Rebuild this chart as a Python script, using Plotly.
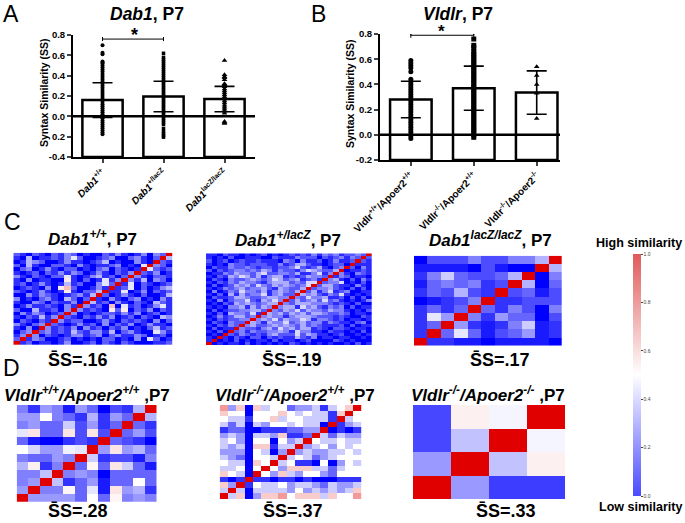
import plotly.graph_objects as go

W, H = 685, 523
FONT = "Liberation Sans"

# bar panel A
dab_labels = ["<i>Dab1</i><sup>+/+</sup>", "<i>Dab1</i><sup>+/lacZ</sup>", "<i>Dab1</i><sup>lacZ/lacZ</sup>"]
dab_means = [0.16, 0.195, 0.17]
dab_sd = [0.17, 0.15, 0.125]
dab_ticks = [0.8, 0.6, 0.4, 0.2, 0.0, -0.2, -0.4]
dab_ticktext = ["0.8", "0.6", "0.4", "0.2", "0.0", "0.2", "-0.4"]
dab_wt = [0.70, 0.625, 0.61, 0.54, 0.53, 0.52, 0.50, 0.48, 0.46, 0.44, 0.42, 0.40, 0.38, 0.36, 0.34, 0.32, 0.30,
          0.28, 0.26, 0.24, 0.22, 0.20, 0.18, 0.16, 0.14, 0.12, 0.10, 0.08, 0.06, 0.04, 0.02, 0.0, -0.02, -0.04,
          -0.06, -0.08, -0.10, -0.12, -0.14, -0.16, -0.175]
dab_het = [0.62, 0.58, 0.56, 0.54, 0.52, 0.50, 0.48, 0.46, 0.44, 0.42, 0.40, 0.38, 0.36, 0.34, 0.32, 0.30, 0.28,
           0.26, 0.24, 0.22, 0.20, 0.18, 0.16, 0.14, 0.12, 0.10, 0.08, 0.06, 0.04, 0.02, 0.0, -0.02, -0.04, -0.06,
           -0.08, -0.12, -0.15, -0.17, -0.19, -0.205]
dab_hom = [0.55, 0.41, 0.39, 0.38, 0.36, 0.32, 0.31, 0.29, 0.27, 0.25, 0.23, 0.21, 0.19, 0.17, 0.15, 0.13, 0.11,
           0.09, 0.07, 0.05, 0.03, -0.05, -0.06, -0.07]

# bar panel B
vldlr_labels = ["Vldlr<sup>+/+</sup>/Apoer2<sup>+/+</sup>", "Vldlr<sup>-/-</sup>/Apoer2<sup>+/+</sup>",
                "Vldlr<sup>-/-</sup>/Apoer2<sup>-/-</sup>"]
vldlr_means = [0.28, 0.37, 0.335]
vldlr_sd = [0.145, 0.175, 0.172]
vldlr_ticks = [0.8, 0.6, 0.4, 0.2, 0.0, -0.2]
vldlr_wt = [0.59, 0.57, 0.55, 0.53, 0.50, 0.44, 0.42, 0.40, 0.38, 0.36, 0.34, 0.32, 0.30, 0.28, 0.26, 0.24, 0.22,
            0.20, 0.18, 0.16, 0.14, 0.12, 0.10, 0.08, 0.06, 0.04, 0.02, -0.01, -0.03]
vldlr_ko = [0.76, 0.71, 0.69, 0.66, 0.64, 0.62, 0.60, 0.58, 0.56, 0.54, 0.52, 0.50, 0.48, 0.46, 0.44, 0.42, 0.40,
            0.38, 0.36, 0.34, 0.32, 0.30, 0.28, 0.26, 0.24, 0.22, 0.20, 0.18, 0.16, 0.14, 0.12, 0.10, 0.08, 0.06,
            0.04, 0.02, 0.0, -0.02]
vldlr_dko = [0.54, 0.47, 0.40, 0.33, 0.13]

# heatmaps, rows top to bottom, digit = step of similarity, R = 1.0
dab_wt_rows = [
    "21021 02132 01002 13101 3032R", "10401 12135 20012 30023 102R4", "01432 00131 10124 01003 10R21",
    "20410 02210 31011 23010 5R320", "02301 31022 01023 02101 R5212", "10120 21313 20131 0213R 21301",
    "31021 02251 01341 202R3 10221", "10301 10061 02015 13R31 40320", "12013 10141 20035 2R150 21012",
    "01210 30672 00131 R1250 20134", "21013 10161 0224R 11501 30212", "00313 21012 314R2 01310 20014",
    "30102 31042 02R10 31023 01031", "10032 02113 0R412 03102 10421", "01311 21031 R3120 70512 01351",
    "20041 1203R 31210 62602 13021", "03132 012R3 01012 21313 01201", "10214 13R21 02131 30120 21043",
    "02102 1R312 20013 10212 10302", "31023 R2101 31203 02130 13110", "1030R 31213 03120 21301 02412",
    "023R2 31214 21331 40231 00531", "13R30 21013 31230 23113 20120", "2R132 00120 10102 20103 05201",
    "R1201 10130 01202 10210 00112",
]
dab_het_rows = [
    "11021 10101 20101 21213 13231 2232R", "10102 00111 00211 13222 02123 132R2", "20120 12112 11103 20311 20131 12R21",
    "10103 22122 21131 24421 10122 0R111", "02113 22321 22122 35212 41023 R2031", "20212 33232 43132 21354 3224R 01121",
    "01132 43324 52233 24113 513R3 10321", "10214 35424 13441 21243 32R13 20110", "02103 22343 23542 34123 1R341 02031",
    "10213 24332 13444 23255 R2335 01020", "02012 43425 32434 3235R 24421 10310", "10132 34233 42143 224R2 33421 02020",
    "03013 25332 41343 24R24 13512 30011", "10204 14233 51342 2R434 21325 10101", "02112 44322 34433 R3253 34112 02020",
    "10302 33521 4353R 24234 25231 01013", "01021 43432 344R3 24443 33212 10200", "10103 34142 43R34 41534 21323 02011",
    "02012 23344 2R324 35243 32433 10102", "10204 33251 R4342 43424 43223 20110", "01312 4423R 34331 34443 22212 10021",
    "10212 233R3 43524 33541 33212 01101", "02103 22R43 14335 23423 31321 10230", "10213 2R342 23434 32423 21112 02011",
    "02011 R3221 34253 42441 21022 10110", "1020R 23132 23343 15331 10211 01020", "010R2 13212 13422 25243 11012 00101",
    "10R10 21022 02121 14213 01101 10010", "1R010 20101 10201 10120 00021 01000", "R0101 10201 01010 21010 10100 10201",
]
vldlr_ko_rows = [
    "73606 45523 34145 6R", "65505 55654 54416 R5", "54415 56455 4441R 45", "42404 35545 440R1 34",
    "12200 11122 33R01 01", "34304 43611 2R424 33", "45305 50534 R5445 44", "43406 6144R 34535 45",
    "33305 403R3 43344 54", "43205 54R45 42345 55", "54406 5R451 10503 54", "44505 R5366 64424 55",
    "6540R 53643 55325 55", "101R1 10110 10001 11", "63R15 44534 43243 34", "4R404 44435 34343 46",
    "R4603 66756 66465 57",
]
dab_hom_z = [
    [0.0, 0.15, 0.15, 0.15, 0.25, 0.15, 0.15, 0.25, 0.25, 0.35, 1.0],
    [0.05, 0.05, 0.05, 0.05, 0.0, 0.15, 0.05, 0.0, 0.0, 1.0, 0.35],
    [0.1, 0.25, 0.4, 0.2, 0.15, 0.15, 0.2, 0.35, 1.0, 0.0, 0.25],
    [0.05, 0.2, 0.25, 0.2, 0.25, 0.1, 0.15, 1.0, 0.35, 0.0, 0.2],
    [0.1, 0.2, 0.15, 0.35, 0.15, 0.1, 1.0, 0.15, 0.2, 0.05, 0.15],
    [0.0, 0.05, 0.1, 0.15, 0.25, 1.0, 0.1, 0.1, 0.15, 0.15, 0.15],
    [0.1, 0.2, 0.1, 0.2, 1.0, 0.2, 0.1, 0.25, 0.15, 0.0, 0.25],
    [0.1, 0.45, 0.3, 1.0, 0.25, 0.1, 0.3, 0.2, 0.2, 0.0, 0.15],
    [0.1, 0.2, 1.0, 0.3, 0.1, 0.05, 0.1, 0.25, 0.4, 0.05, 0.1],
    [0.1, 1.0, 0.2, 0.45, 0.2, 0.05, 0.15, 0.2, 0.3, 0.05, 0.1],
    [1.0, 0.1, 0.1, 0.05, 0.05, 0.0, 0.05, 0.05, 0.05, 0.05, 0.0],
]
vldlr_wt_z = [
    [0.25, 0.1, 0.3, 0.25, 0.05, 0.3, 0.2, 0.0, 0.15, 0.1, 0.35, 1.0],
    [0.3, 0.3, 0.5, 0.25, 0.2, 0.1, 0.35, 0.1, 0.3, 0.2, 1.0, 0.35],
    [0.25, 0.3, 0.2, 0.2, 0.4, 0.15, 0.3, 0.1, 0.2, 1.0, 0.2, 0.1],
    [0.45, 0.55, 0.2, 0.2, 0.55, 0.15, 0.55, 0.15, 1.0, 0.2, 0.3, 0.15],
    [0.2, 0.05, 0.0, 0.0, 0.1, 0.15, 0.1, 1.0, 0.2, 0.15, 0.1, 0.0],
    [0.5, 0.42, 0.3, 0.3, 0.47, 0.45, 1.0, 0.3, 0.55, 0.3, 0.35, 0.2],
    [0.25, 0.2, 0.2, 0.3, 0.25, 1.0, 0.4, 0.1, 0.15, 0.15, 0.05, 0.25],
    [0.35, 0.53, 0.1, 0.25, 1.0, 0.2, 0.52, 0.2, 0.55, 0.4, 0.2, 0.05],
    [0.25, 0.25, 0.38, 1.0, 0.25, 0.3, 0.25, 0.0, 0.2, 0.2, 0.2, 0.2],
    [0.25, 0.3, 1.0, 0.38, 0.1, 0.2, 0.3, 0.05, 0.2, 0.2, 0.5, 0.2],
    [0.3, 1.0, 0.25, 0.25, 0.52, 0.2, 0.45, 0.05, 0.55, 0.3, 0.35, 0.1],
    [1.0, 0.3, 0.3, 0.3, 0.3, 0.2, 0.5, 0.2, 0.52, 0.25, 0.3, 0.25],
]
vldlr_dko_z = [
    [0.14, 0.53, 0.48, 1.0],
    [0.14, 0.38, 1.0, 0.48],
    [0.3, 1.0, 0.38, 0.53],
    [1.0, 0.3, 0.12, 0.12],
]

HEAT_SCALE = [[0, "#0000ff"], [0.5, "#ffffff"], [1, "#e00000"]]
BAR_SCALE = [[0, "#4a4aff"], [0.5, "#ffffff"], [1, "#e05a5a"]]


def decode(rows, step):
    out = []
    for row in rows:
        row = row.replace(" ", "")
        out.append([1.0 if c == "R" else int(c) * step for c in row])
    return out


def dom_x(left, right):
    return [left / W, right / W]


def dom_y(top, bottom):
    return [1 - bottom / H, 1 - top / H]


fig = go.Figure()


def bar_panel(n, means, sd, groups, symbols, sizes, y_min):
    xa, ya = ("x" + n, "y" + n)
    fig.add_trace(go.Bar(x=[0, 1, 2], y=[m - y_min for m in means], base=[y_min] * 3, width=0.66,
                         marker=dict(color="white", line=dict(color="black", width=2.5)),
                         xaxis=xa, yaxis=ya))
    fig.add_trace(go.Scatter(x=[0, 1, 2], y=means, mode="markers", marker=dict(size=1, color="black"),
                             error_y=dict(type="data", array=sd, width=10, thickness=1.6, color="black"),
                             xaxis=xa, yaxis=ya))
    for i, vals in enumerate(groups):
        fig.add_trace(go.Scatter(x=[i] * len(vals), y=vals, mode="markers",
                                 marker=dict(symbol=symbols[i], size=sizes[i], color="black"),
                                 xaxis=xa, yaxis=ya))


bar_panel("", dab_means, dab_sd, [dab_wt, dab_het, dab_hom], ["circle", "square", "triangle-up"], [4, 3.5, 5], -0.4)
bar_panel("2", vldlr_means, vldlr_sd, [vldlr_wt, vldlr_ko, vldlr_dko], ["circle", "square", "triangle-up"], [5, 5, 5], -0.2)

# significance brackets
fig.add_trace(go.Scatter(x=[0, 0, 0, 1, 1, 1], y=[0.74, 0.78, 0.76, 0.76, 0.78, 0.74], mode="lines",
                         line=dict(color="black", width=1), xaxis="x", yaxis="y"))
fig.add_trace(go.Scatter(x=[0, 0, 0, 1, 1, 1], y=[0.77, 0.81, 0.79, 0.79, 0.81, 0.77], mode="lines",
                         line=dict(color="black", width=1), cliponaxis=False, xaxis="x2", yaxis="y2"))

heatmaps = [
    (decode(dab_wt_rows, 0.09), 13.3, 172.7, 252.7, 345),
    (decode(dab_het_rows, 0.085), 206, 371.7, 253.3, 345),
    (dab_hom_z, 414, 561.7, 255.7, 345.7),
    (vldlr_wt_z, 16.7, 156.7, 405, 501.7),
    (decode(vldlr_ko_rows, 0.1), 219.7, 361.3, 405, 499.3),
    (vldlr_dko_z, 413, 565.3, 405, 499.3),
]

layout_axes = {}
for i, (z, left, right, top, bottom) in enumerate(heatmaps):
    k = str(i + 3)
    fig.add_trace(go.Heatmap(z=z, colorscale=HEAT_SCALE, zmin=0, zmax=1, showscale=False,
                             xaxis="x" + k, yaxis="y" + k))
    layout_axes["xaxis" + k] = dict(domain=dom_x(left, right), visible=False, automargin=False)
    layout_axes["yaxis" + k] = dict(domain=dom_y(top, bottom), visible=False, autorange="reversed", automargin=False)

# colour bar, on its own invisible trace
fig.add_trace(go.Scatter(x=[None, None], y=[None, None], mode="markers", xaxis="x3", yaxis="y3",
                         marker=dict(color=[0, 1], cmin=0, cmax=1, colorscale=BAR_SCALE, showscale=True,
                                     colorbar=dict(x=633 / W, xanchor="left", y=1 - 375 / H, yanchor="middle",
                                                   lenmode="pixels", len=242, thickness=8, outlinewidth=0,
                                                   xpad=0, ypad=0, ticks="outside", ticklen=2, tickwidth=0.5,
                                                   tick0=0, dtick=0.2, tickformat=".1f",
                                                   tickfont=dict(size=5, color="#444444", family=FONT)))))


def x_axis(left, right, lo, hi, labels, size):
    return dict(domain=dom_x(left, right), range=[lo, hi], tickmode="array", tickvals=[0, 1, 2], ticktext=labels,
                tickangle=-45, ticks="outside", ticklen=4, tickwidth=1.5, showline=True, linewidth=2,
                linecolor="black", showgrid=False, zeroline=False, anchor="y" if left < 300 else "y2",
                automargin=False, tickfont=dict(size=size, family=FONT, color="black", weight="bold"))


def y_axis(top, bottom, lo, hi, vals, text, anchor):
    return dict(domain=dom_y(top, bottom), range=[lo, hi], tickmode="array", tickvals=vals, ticktext=text,
                ticks="outside", ticklen=4, tickwidth=2, showline=True, linewidth=2, linecolor="black",
                showgrid=False, zeroline=False, anchor=anchor, automargin=False,
                tickfont=dict(size=9.5, family=FONT, color="black", weight="bold"))


layout_axes["xaxis"] = x_axis(73, 255, -0.484, 2.5, dab_labels, 10)
layout_axes["yaxis"] = y_axis(35, 157, -0.4, 0.8, dab_ticks, dab_ticktext, "x")
layout_axes["xaxis2"] = x_axis(380, 560, -0.49, 2.37, vldlr_labels, 10)
layout_axes["yaxis2"] = y_axis(34, 160, -0.2, 0.8, vldlr_ticks, ["%.1f" % v for v in vldlr_ticks], "x2")

texts = [
    ("A", 11, 14, 23, 0),
    ("B", 318, 14, 23, 0),
    ("C", 12, 222, 23, 0),
    ("D", 11, 368, 23, 0),
    ("<b><i>Dab1</i>, P7</b>", 147, 14, 17.5, 0),
    ("<b><i>Vldlr</i>, P7</b>", 458, 14, 17.5, 0),
    ("<b><i>Dab1<sup>+/+</sup></i>, P7</b>", 92, 238, 17, 0),
    ("<b><i>Dab1<sup>+/lacZ</sup></i>, P7</b>", 288, 239, 17, 0),
    ("<b><i>Dab1<sup>lacZ/lacZ</sup></i>, P7</b>", 490, 239, 17, 0),
    ("<b><i>Vldlr<sup>+/+</sup>/Apoer2<sup>+/+</sup></i> ,P7</b>", 87, 394, 17, 0),
    ("<b><i>Vldlr<sup>-/-</sup>/Apoer2<sup>+/+</sup></i> ,P7</b>", 295, 394, 17, 0),
    ("<b><i>Vldlr<sup>-/-</sup>/Apoer2<sup>-/-</sup></i> ,P7</b>", 488, 394, 17, 0),
    ("<b>S\u0304S=.16</b>", 78, 360, 18, 0),
    ("<b>S\u0304S=.19</b>", 292, 360, 18, 0),
    ("<b>S\u0304S=.17</b>", 500, 360, 18, 0),
    ("<b>S\u0304S=.28</b>", 78, 511, 18, 0),
    ("<b>S\u0304S=.37</b>", 293, 511, 18, 0),
    ("<b>S\u0304S=.33</b>", 506, 511, 18, 0),
    ("<b>High similarity</b>", 639, 243, 12.5, 0),
    ("<b>Low similarity</b>", 640, 507, 12.5, 0),
    ("<b>*</b>", 134, 35, 18, 0),
    ("<b>*</b>", 441, 31, 17, 0),
    ("<b>Syntax Similarity (SS)</b>", 44, 93, 10.5, -90),
    ("<b>Syntax Similarity (SS)</b>", 350, 94, 10.5, -90),
]
annotations = [dict(text=t, x=cx / W, y=1 - cy / H, xref="paper", yref="paper", xanchor="center", yanchor="middle",
                    textangle=a, showarrow=False, font=dict(size=s, family=FONT, color="black"))
               for t, cx, cy, s, a in texts]

# thick zero line over the bars
shapes = [dict(type="line", xref="x domain", yref="y", x0=0, x1=1, y0=0, y1=0, line=dict(color="black", width=2.5)),
          dict(type="line", xref="x2 domain", yref="y2", x0=0, x1=1, y0=0, y1=0, line=dict(color="black", width=2.5))]

fig.update_layout(width=W, height=H, margin=dict(l=0, r=0, t=0, b=0), autosize=False, showlegend=False,
                  paper_bgcolor="white", plot_bgcolor="white", annotations=annotations, shapes=shapes,
                  font=dict(family=FONT), **layout_axes)

fig.write_html("out.html", config={"displayModeBar": False}, post_script="document.body.style.margin='0';")
